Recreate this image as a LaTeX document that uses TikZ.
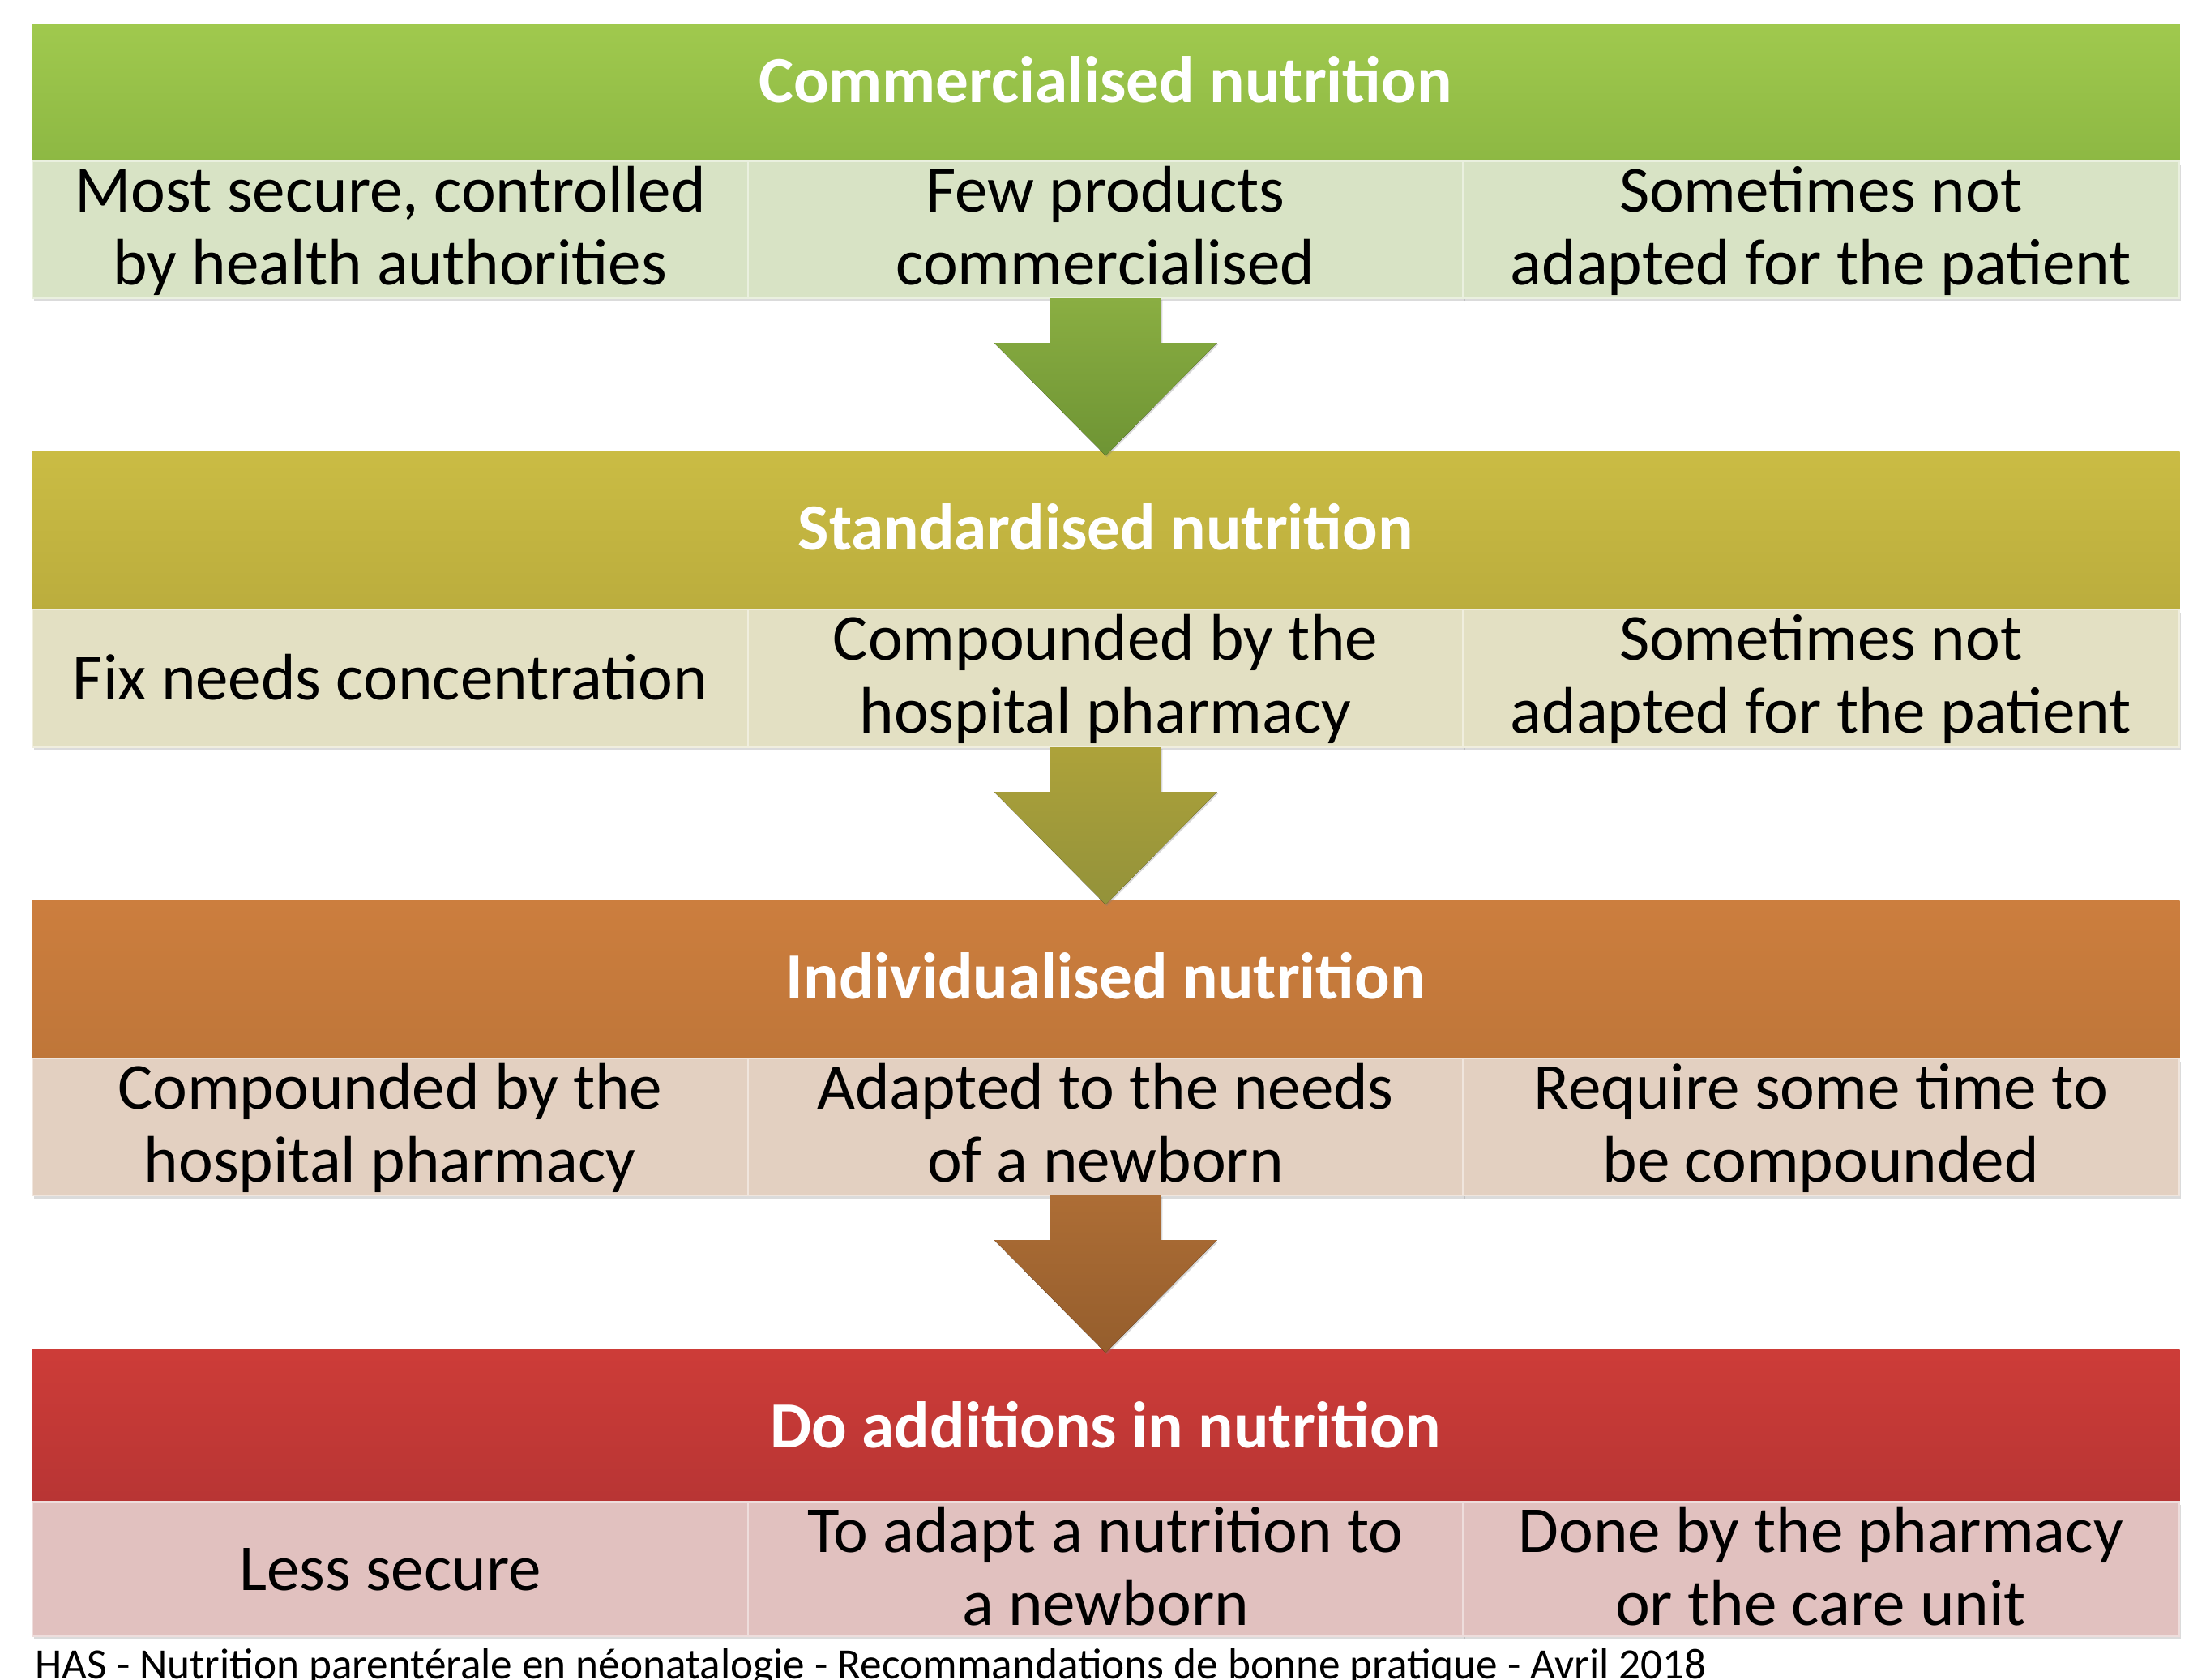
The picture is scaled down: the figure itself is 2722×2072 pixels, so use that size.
\documentclass[tikz,border=0pt]{standalone}
\usepackage{fontspec}
\setmainfont{Carlito}
\usetikzlibrary{calc,shadows}

% band and cell colours
\definecolor{gTop}{HTML}{A0C94E}
\definecolor{gBot}{HTML}{8DB843}
\definecolor{gCell}{HTML}{D8E3C5}
\definecolor{gArTop}{HTML}{8AAE42}
\definecolor{gArBot}{HTML}{6E9434}
\definecolor{yTop}{HTML}{CABC44}
\definecolor{yBot}{HTML}{BBAD3D}
\definecolor{yCell}{HTML}{E3E0C3}
\definecolor{yArTop}{HTML}{ADA23A}
\definecolor{yArBot}{HTML}{93923A}
\definecolor{oTop}{HTML}{CC7E3E}
\definecolor{oBot}{HTML}{BF7639}
\definecolor{oCell}{HTML}{E3D0C1}
\definecolor{oArTop}{HTML}{AD6D35}
\definecolor{oArBot}{HTML}{955E2D}
\definecolor{rTop}{HTML}{CD3C38}
\definecolor{rBot}{HTML}{B83534}
\definecolor{rCell}{HTML}{E1C1BF}

\newcommand\twolines[2]{\begin{tabular}[t]{@{}c@{}}#1\\#2\end{tabular}}

\tikzset{
  band/.style={anchor=north west, minimum width=26.48cm, inner sep=0pt, outer sep=0pt},
  cellbox/.style={anchor=north west, minimum width=8.8267cm, inner sep=0pt, outer sep=0pt,
    fill=#1, draw=white!45!#1, line width=0.6pt,
    drop shadow={shadow xshift=0.02cm, shadow yshift=-0.035cm, opacity=0.28}},
  title/.style={anchor=base, text=white, inner sep=0pt,
    font=\fontsize{23.1pt}{25.6pt}\selectfont\bfseries},
  celltext/.style={anchor=base, inner sep=0pt,
    font=\fontsize{23.05pt}{25.6pt}\selectfont},
  flowarrow/.style={top color=#1Top, bottom color=#1Bot, draw=none,
    drop shadow={shadow xshift=0.015cm, shadow yshift=-0.02cm, opacity=0.3}},
}

\begin{document}
\begin{tikzpicture}[x=0.01cm, y=-0.01cm]
\useasboundingbox[fill=white] (0,0) rectangle (2722,2072);

% ---- Commercialised nutrition ----
\node[band, minimum height=1.70cm, top color=gTop, bottom color=gBot] (h1) at (40,29) {};
\node[cellbox=gCell, minimum height=1.69cm] (c11) at (40,199) {};
\node[cellbox=gCell, minimum height=1.69cm] (c12) at (922.67,199) {};
\node[cellbox=gCell, minimum height=1.69cm] (c13) at (1805.33,199) {};
\node[title] (t1) at (1364,126) {Commercialised nutrition};
\node[celltext] (x11) at (481.3,261) {\twolines{Most secure, controlled}{by health authorities}};
\node[celltext] (x12) at (1364,261) {\twolines{Few products}{commercialised}};
\node[celltext] (x13) at (2246.7,261) {\twolines{Sometimes not}{adapted for the patient}};

% ---- Standardised nutrition ----
\node[band, minimum height=1.95cm, top color=yTop, bottom color=yBot] (h2) at (40,557) {};
\node[cellbox=yCell, minimum height=1.70cm] (c21) at (40,752) {};
\node[cellbox=yCell, minimum height=1.70cm] (c22) at (922.67,752) {};
\node[cellbox=yCell, minimum height=1.70cm] (c23) at (1805.33,752) {};
\node[title] (t2) at (1364,678) {Standardised nutrition};
\node[celltext] (x21) at (481.3,863) {Fix needs concentration};
\node[celltext] (x22) at (1364,814) {\twolines{Compounded by the}{hospital pharmacy}};
\node[celltext] (x23) at (2246.7,814) {\twolines{Sometimes not}{adapted for the patient}};

% ---- Individualised nutrition ----
\node[band, minimum height=1.95cm, top color=oTop, bottom color=oBot] (h3) at (40,1111) {};
\node[cellbox=oCell, minimum height=1.69cm] (c31) at (40,1306) {};
\node[cellbox=oCell, minimum height=1.69cm] (c32) at (922.67,1306) {};
\node[cellbox=oCell, minimum height=1.69cm] (c33) at (1805.33,1306) {};
\node[title] (t3) at (1364,1232) {Individualised nutrition};
\node[celltext] (x31) at (481.3,1368) {\twolines{Compounded by the}{hospital pharmacy}};
\node[celltext] (x32) at (1364,1368) {\twolines{Adapted to the needs}{of a newborn}};
\node[celltext] (x33) at (2246.7,1368) {\twolines{Require some time to}{be compounded}};

% ---- Do additions in nutrition ----
\node[band, minimum height=1.88cm, top color=rTop, bottom color=rBot] (h4) at (40,1665) {};
\node[cellbox=rCell, minimum height=1.66cm] (c41) at (40,1853) {};
\node[cellbox=rCell, minimum height=1.66cm] (c42) at (922.67,1853) {};
\node[cellbox=rCell, minimum height=1.66cm] (c43) at (1805.33,1853) {};
\node[title] (t4) at (1364,1786) {Do additions in nutrition};
\node[celltext] (x41) at (481.3,1962) {Less secure};
\node[celltext] (x42) at (1364,1915) {\twolines{To adapt a nutrition to}{a newborn}};
\node[celltext] (x43) at (2246.7,1915) {\twolines{Done by the pharmacy}{or the care unit}};

% ---- block arrows from each cell row down to the next band ----
\foreach \row/\col in {c12/gAr, c22/yAr, c32/oAr}{
  \fill[flowarrow=\col]
    ($(\row.south)+(-68.5,0)$) -- ($(\row.south)+(68.5,0)$)
    -- ($(\row.south)+(68.5,55)$) -- ($(\row.south)+(137.5,55)$)
    -- ($(\row.south)+(0,194)$)
    -- ($(\row.south)+(-137.5,55)$) -- ($(\row.south)+(-68.5,55)$) -- cycle;
}

% ---- source line ----
\node[anchor=base west, inner sep=0pt, font=\fontsize{15.15pt}{17pt}\selectfont] (src) at (43,2071)
  {HAS - Nutrition parentérale en néonatalogie - Recommandations de bonne pratique - Avril 2018};
\end{tikzpicture}
\end{document}
